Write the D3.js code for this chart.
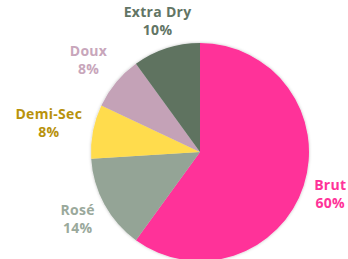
<!DOCTYPE html>
<html>
<head>
<meta charset="utf-8">
<script src="https://cdn.jsdelivr.net/npm/d3@7"></script>
<style>
  body { margin: 0; background: #fff; }
  text { font-family: "Open Sans", sans-serif; font-weight: 700; font-size: 14px; letter-spacing: 0.3px; }
</style>
</head>
<body>
<div id="chart"></div>
<script>
// chart data
var labels = ["Brut", "Rosé", "Demi-Sec", "Doux", "Extra Dry"];
var shares = [60, 14, 8, 8, 10];
var sliceColors = ["#ff3399", "#94a496", "#ffdc4e", "#c4a2b7", "#5f7361"];
var labelColors = ["#ff3399", "#9aa99c", "#b8920c", "#c8a6bb", "#627565"];

var width = 348, height = 259;
var cx = 200, cy = 152, radius = 109;

var svg = d3.select("#chart")
    .append("svg")
    .attr("width", width)
    .attr("height", height);

// soft shadow round the pie
var defs = svg.append("defs");
var filter = defs.append("filter")
    .attr("id", "shadow")
    .attr("x", "-20%").attr("y", "-20%")
    .attr("width", "140%").attr("height", "140%");
filter.append("feDropShadow")
    .attr("dx", 0).attr("dy", 0)
    .attr("stdDeviation", 1.5)
    .attr("flood-color", "#000")
    .attr("flood-opacity", 0.25);

var pie = d3.pie().sort(null).value(d => d);
var arcs = pie(shares);

var arc = d3.arc().innerRadius(0).outerRadius(radius);

var chartGroup = svg.append("g")
    .attr("transform", `translate(${cx},${cy})`);

chartGroup.append("g")
    .attr("filter", "url(#shadow)")
    .selectAll("path")
    .data(arcs)
    .enter()
    .append("path")
        .attr("d", arc)
        .attr("fill", (d, i) => sliceColors[i]);

// labels: box centre on the slice's mid ray, box edge touching radius + offset
var labelRadius = radius + 11;
var lineGap = 18;
var halfBoxH = 16.5;
var labelGroup = chartGroup.append("g");

arcs.forEach(function(d, i) {
    var mid = (d.startAngle + d.endAngle) / 2;
    var ux = Math.sin(mid), uy = -Math.cos(mid);

    var t = labelGroup.append("text")
        .attr("text-anchor", "middle")
        .attr("fill", labelColors[i]);
    var l1 = t.append("tspan").attr("x", 0).text(labels[i]);
    var l2 = t.append("tspan").attr("x", 0).text(shares[i] + "%");

    var w = t.node().getBBox().width;
    var reach = Math.min(
        Math.abs(ux) > 1e-6 ? (w / 2) / Math.abs(ux) : Infinity,
        Math.abs(uy) > 1e-6 ? halfBoxH / Math.abs(uy) : Infinity
    );
    var px = ux * (labelRadius + reach);
    var py = uy * (labelRadius + reach);
    // first baseline sits 4px above the visual middle of the two lines
    l1.attr("x", px).attr("y", py - 4);
    l2.attr("x", px).attr("y", py - 4 + lineGap);
});
</script>
</body>
</html>
